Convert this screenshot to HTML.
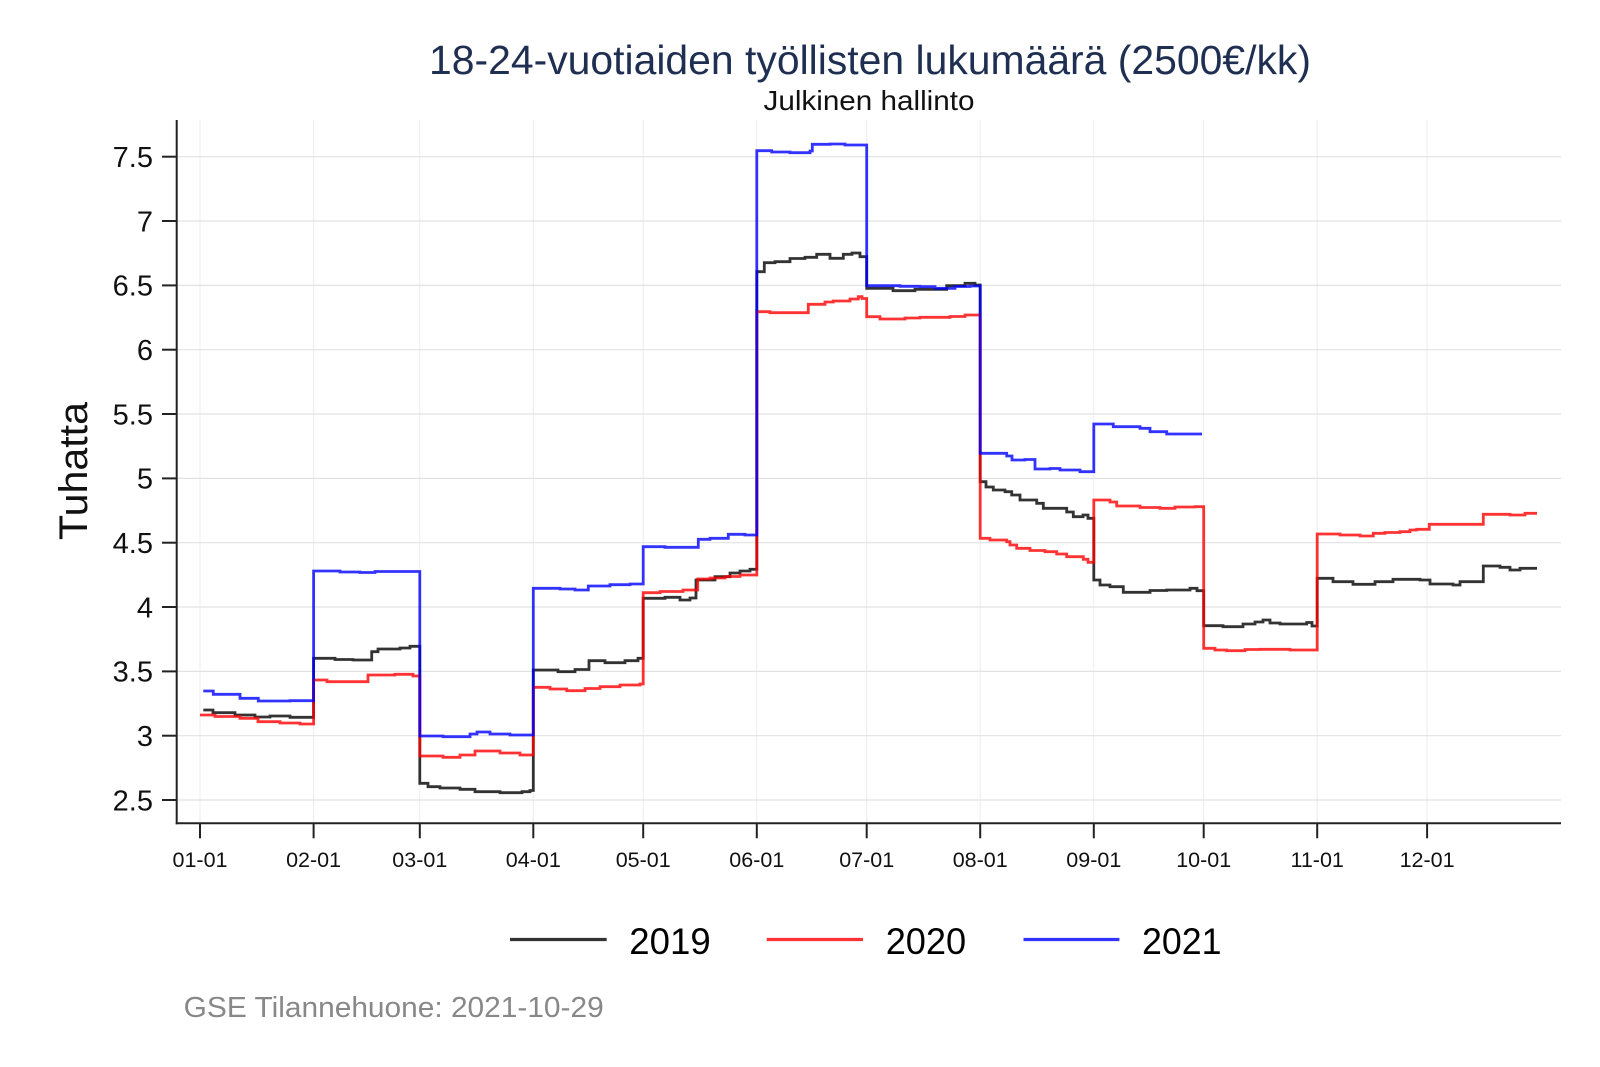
<!DOCTYPE html>
<html>
<head>
<meta charset="utf-8">
<style>
html,body{margin:0;padding:0;background:#fff;}
svg{display:block;}
text{font-family:"Liberation Sans",Arial,sans-serif;}
</style>
</head>
<body>
<svg width="1600" height="1067" viewBox="0 0 1600 1067" xmlns="http://www.w3.org/2000/svg">
<rect width="1600" height="1067" fill="#fff"/>

<!-- vertical grid -->
<g stroke="#ececec" stroke-width="1">
<line x1="200" y1="120" x2="200" y2="823"/>
<line x1="313.6" y1="120" x2="313.6" y2="823"/>
<line x1="419.8" y1="120" x2="419.8" y2="823"/>
<line x1="533.3" y1="120" x2="533.3" y2="823"/>
<line x1="643.2" y1="120" x2="643.2" y2="823"/>
<line x1="756.8" y1="120" x2="756.8" y2="823"/>
<line x1="866.7" y1="120" x2="866.7" y2="823"/>
<line x1="980.2" y1="120" x2="980.2" y2="823"/>
<line x1="1093.8" y1="120" x2="1093.8" y2="823"/>
<line x1="1203.7" y1="120" x2="1203.7" y2="823"/>
<line x1="1317.2" y1="120" x2="1317.2" y2="823"/>
<line x1="1427.1" y1="120" x2="1427.1" y2="823"/>
</g>
<!-- horizontal grid -->
<g stroke="#e2e2e2" stroke-width="1.2">
<line x1="177" y1="156.7" x2="1561" y2="156.7"/>
<line x1="177" y1="221" x2="1561" y2="221"/>
<line x1="177" y1="285.4" x2="1561" y2="285.4"/>
<line x1="177" y1="349.7" x2="1561" y2="349.7"/>
<line x1="177" y1="414" x2="1561" y2="414"/>
<line x1="177" y1="478.4" x2="1561" y2="478.4"/>
<line x1="177" y1="542.7" x2="1561" y2="542.7"/>
<line x1="177" y1="607" x2="1561" y2="607"/>
<line x1="177" y1="671.4" x2="1561" y2="671.4"/>
<line x1="177" y1="735.7" x2="1561" y2="735.7"/>
<line x1="177" y1="800" x2="1561" y2="800"/>
</g>

<!-- series -->
<g fill="none" stroke-width="2.8" stroke-linejoin="miter" stroke-linecap="butt">
<polyline stroke="#000" stroke-opacity="0.8" points="203.3,710 213,710 213,712.7 235,712.7 235,715 255,715 255,717 270,717 270,716 290,716 290,717.3 313.6,717.3 313.6,658.3 335,658.3 335,659.5 353,659.5 353,660 371.7,660 371.7,651.7 378,651.7 378,649 400,649 400,648 410,648 410,646.3 419.8,646.3 419.8,783.3 428,783.3 428,786.7 440,786.7 440,788 460,788 460,789.3 475,789.3 475,791.7 500,791.7 500,792.7 522,792.7 522,791.7 530,791.7 530,790.5 533.3,790.5 533.3,670 558,670 558,671.7 575,671.7 575,669.5 589,669.5 589,660.7 605,660.7 605,662.7 625,662.7 625,660.7 638,660.7 638,658.3 643.2,658.3 643.2,598.3 665,598.3 665,597.3 680,597.3 680,600 690,600 690,598 696,598 696,580 715,580 715,576.7 730,576.7 730,573 740,573 740,571 750,571 750,569.3 756.8,569.3 756.8,271.7 764.3,271.7 764.3,262.7 775,262.7 775,261.7 790,261.7 790,258.5 805,258.5 805,257.3 816.7,257.3 816.7,254.3 830,254.3 830,258.3 843.3,258.3 843.3,254.3 852,254.3 852,253 860,253 860,256.7 866.7,256.7 866.7,288.3 893,288.3 893,290.7 915,290.7 915,289.3 946.7,289.3 946.7,285.7 965,285.7 965,283.3 975,283.3 975,285 980.2,285 980.2,481.7 986,481.7 986,487 993.3,487 993.3,490 1005,490 1005,491.7 1011.7,491.7 1011.7,495 1020,495 1020,500 1036.7,500 1036.7,503.3 1043.3,503.3 1043.3,508.3 1066.7,508.3 1066.7,512 1073.3,512 1073.3,516.7 1083,516.7 1083,515 1088,515 1088,518.3 1093.8,518.3 1093.8,580 1100,580 1100,585 1110,585 1110,586.7 1123.3,586.7 1123.3,592.3 1150,592.3 1150,590.5 1166.7,590.5 1166.7,590 1190,590 1190,588.3 1197,588.3 1197,590.7 1203.7,590.7 1203.7,625.7 1223,625.7 1223,626.7 1243,626.7 1243,624 1255,624 1255,622 1263,622 1263,620 1270,620 1270,623 1280,623 1280,624 1306.7,624 1306.7,622.5 1312,622.5 1312,626 1317.2,626 1317.2,578.3 1333,578.3 1333,581.7 1353,581.7 1353,584.3 1375,584.3 1375,581.7 1393,581.7 1393,579.3 1420,579.3 1420,580 1430,580 1430,584 1453,584 1453,585 1460,585 1460,581.7 1483.3,581.7 1483.3,566 1500,566 1500,567.3 1510,567.3 1510,570 1520,570 1520,568.3 1537,568.3"/>
<polyline stroke="#ff0000" stroke-opacity="0.8" points="200,715 215,715 215,716.5 240,716.5 240,718.3 258,718.3 258,721.7 280,721.7 280,723 300,723 300,724 313.6,724 313.6,680 327,680 327,681.7 368,681.7 368,675 395,675 395,674.3 413,674.3 413,676 419.8,676 419.8,756 443,756 443,757.3 460,757.3 460,755 475,755 475,751 500,751 500,753 520,753 520,755 533.3,755 533.3,687.3 550,687.3 550,689 566.7,689 566.7,690.7 585,690.7 585,688.5 600,688.5 600,686.7 620,686.7 620,685 640,685 640,684 643.2,684 643.2,592.7 660,592.7 660,591.5 683,591.5 683,590 697.7,590 697.7,579 710,579 710,578 725,578 725,576.5 740,576.5 740,575 756.8,575 756.8,311.7 770,311.7 770,312.7 808.3,312.7 808.3,304.3 825,304.3 825,302 833.3,302 833.3,301 850,301 850,299 858.3,299 858.3,296.7 862,296.7 862,298.5 866.7,298.5 866.7,316.7 880,316.7 880,319 905,319 905,318 920,318 920,317.3 950,317.3 950,316.5 965,316.5 965,315 980.2,315 980.2,538.3 990,538.3 990,540 1006.7,540 1006.7,541.7 1010,541.7 1010,545 1016.7,545 1016.7,548.3 1030,548.3 1030,550.5 1045,550.5 1045,551.7 1056.7,551.7 1056.7,554 1066.7,554 1066.7,556.7 1083.3,556.7 1083.3,559.3 1088,559.3 1088,562.3 1093.8,562.3 1093.8,500 1110,500 1110,502 1116.7,502 1116.7,506 1140,506 1140,507.5 1160,507.5 1160,508.3 1175,508.3 1175,507 1195,507 1195,506.7 1203.7,506.7 1203.7,648.3 1215,648.3 1215,650 1226.7,650 1226.7,650.7 1245,650.7 1245,649.5 1260,649.5 1260,649.3 1290,649.3 1290,650 1317.2,650 1317.2,534 1340,534 1340,535 1360,535 1360,536 1373.3,536 1373.3,533.3 1385,533.3 1385,532.5 1400,532.5 1400,531.7 1410,531.7 1410,530 1416.7,530 1416.7,529.3 1429.3,529.3 1429.3,524.3 1483.3,524.3 1483.3,514.3 1510,514.3 1510,515 1525,515 1525,513.3 1537,513.3"/>
<polyline stroke="#0000ff" stroke-opacity="0.8" points="203.3,691 213.3,691 213.3,694.3 240,694.3 240,698.3 258.3,698.3 258.3,701 290,701 290,700.7 313.6,700.7 313.6,571 340,571 340,572 360,572 360,572.5 375,572.5 375,571.5 419.8,571.5 419.8,736 443,736 443,736.7 470,736.7 470,734 477,734 477,732 490,732 490,734 510,734 510,735 533.3,735 533.3,588.3 560,588.3 560,589 575,589 575,590 588.3,590 588.3,586 610,586 610,584.7 630,584.7 630,584 643.2,584 643.2,546.7 665,546.7 665,547.3 698.3,547.3 698.3,539.3 710,539.3 710,538.3 728.3,538.3 728.3,534.3 745,534.3 745,535 756.8,535 756.8,150.7 771.7,150.7 771.7,152 790,152 790,152.7 810,152.7 810,151 812.3,151 812.3,144.3 830,144.3 830,144 845,144 845,145 866.7,145 866.7,285.7 900,285.7 900,286.3 920,286.3 920,286.7 935,286.7 935,288.3 955,288.3 955,286.5 970,286.5 970,286 980.2,286 980.2,453.3 1006.7,453.3 1006.7,456 1012,456 1012,460 1025,460 1025,459.5 1035,459.5 1035,469 1050,469 1050,468.5 1060,468.5 1060,470 1080,470 1080,471.7 1093.8,471.7 1093.8,424 1113.3,424 1113.3,426.7 1140,426.7 1140,428.3 1150,428.3 1150,431.7 1166.7,431.7 1166.7,434 1202,434"/>
</g>

<!-- axes -->
<g stroke="#222" stroke-width="2">
<line x1="176.7" y1="120" x2="176.7" y2="824.3"/>
<line x1="175.7" y1="823.3" x2="1561" y2="823.3"/>
<line x1="162" y1="156.7" x2="176.7" y2="156.7"/>
<line x1="162" y1="221" x2="176.7" y2="221"/>
<line x1="162" y1="285.4" x2="176.7" y2="285.4"/>
<line x1="162" y1="349.7" x2="176.7" y2="349.7"/>
<line x1="162" y1="414" x2="176.7" y2="414"/>
<line x1="162" y1="478.4" x2="176.7" y2="478.4"/>
<line x1="162" y1="542.7" x2="176.7" y2="542.7"/>
<line x1="162" y1="607" x2="176.7" y2="607"/>
<line x1="162" y1="671.4" x2="176.7" y2="671.4"/>
<line x1="162" y1="735.7" x2="176.7" y2="735.7"/>
<line x1="162" y1="800" x2="176.7" y2="800"/>
<line x1="200" y1="823.3" x2="200" y2="838.3"/>
<line x1="313.6" y1="823.3" x2="313.6" y2="838.3"/>
<line x1="419.8" y1="823.3" x2="419.8" y2="838.3"/>
<line x1="533.3" y1="823.3" x2="533.3" y2="838.3"/>
<line x1="643.2" y1="823.3" x2="643.2" y2="838.3"/>
<line x1="756.8" y1="823.3" x2="756.8" y2="838.3"/>
<line x1="866.7" y1="823.3" x2="866.7" y2="838.3"/>
<line x1="980.2" y1="823.3" x2="980.2" y2="838.3"/>
<line x1="1093.8" y1="823.3" x2="1093.8" y2="838.3"/>
<line x1="1203.7" y1="823.3" x2="1203.7" y2="838.3"/>
<line x1="1317.2" y1="823.3" x2="1317.2" y2="838.3"/>
<line x1="1427.1" y1="823.3" x2="1427.1" y2="838.3"/>
</g>

<!-- y tick labels -->
<g font-size="29" fill="#111" text-anchor="end">
<text x="153" y="167">7.5</text>
<text x="153" y="231.3">7</text>
<text x="153" y="295.7">6.5</text>
<text x="153" y="360">6</text>
<text x="153" y="424.3">5.5</text>
<text x="153" y="488.7">5</text>
<text x="153" y="553">4.5</text>
<text x="153" y="617.3">4</text>
<text x="153" y="681.7">3.5</text>
<text x="153" y="746">3</text>
<text x="153" y="810.3">2.5</text>
</g>

<!-- x tick labels -->
<g font-size="21.5" fill="#111" text-anchor="middle">
<text x="200" y="867">01-01</text>
<text x="313.6" y="867">02-01</text>
<text x="419.8" y="867">03-01</text>
<text x="533.3" y="867">04-01</text>
<text x="643.2" y="867">05-01</text>
<text x="756.8" y="867">06-01</text>
<text x="866.7" y="867">07-01</text>
<text x="980.2" y="867">08-01</text>
<text x="1093.8" y="867">09-01</text>
<text x="1203.7" y="867">10-01</text>
<text x="1317.2" y="867">11-01</text>
<text x="1427.1" y="867">12-01</text>
</g>

<!-- y axis title -->
<text x="87" y="471" font-size="40" fill="#111" text-anchor="middle" transform="rotate(-90 87 471)" textLength="138" lengthAdjust="spacingAndGlyphs">Tuhatta</text>

<!-- titles -->
<text x="870" y="74" font-size="41" fill="#1f2f52" text-anchor="middle" textLength="882" lengthAdjust="spacingAndGlyphs">18-24-vuotiaiden työllisten lukumäärä (2500€/kk)</text>
<text x="869" y="110" font-size="28" fill="#111" text-anchor="middle" textLength="211" lengthAdjust="spacingAndGlyphs">Julkinen hallinto</text>

<!-- legend -->
<g stroke-width="3.2">
<line x1="510" y1="939.5" x2="606.7" y2="939.5" stroke="#000" stroke-opacity="0.8"/>
<line x1="766.7" y1="939.5" x2="863" y2="939.5" stroke="#ff0000" stroke-opacity="0.8"/>
<line x1="1023.5" y1="939.5" x2="1119.4" y2="939.5" stroke="#0000ff" stroke-opacity="0.8"/>
</g>
<g font-size="37" fill="#000">
<text x="629.3" y="954" textLength="81.4" lengthAdjust="spacingAndGlyphs">2019</text>
<text x="885.7" y="954" textLength="80.5" lengthAdjust="spacingAndGlyphs">2020</text>
<text x="1142" y="954" textLength="79.5" lengthAdjust="spacingAndGlyphs">2021</text>
</g>

<!-- caption -->
<text x="183.7" y="1017" font-size="28.6" fill="#888" textLength="420" lengthAdjust="spacingAndGlyphs">GSE Tilannehuone: 2021-10-29</text>
</svg>
</body>
</html>
